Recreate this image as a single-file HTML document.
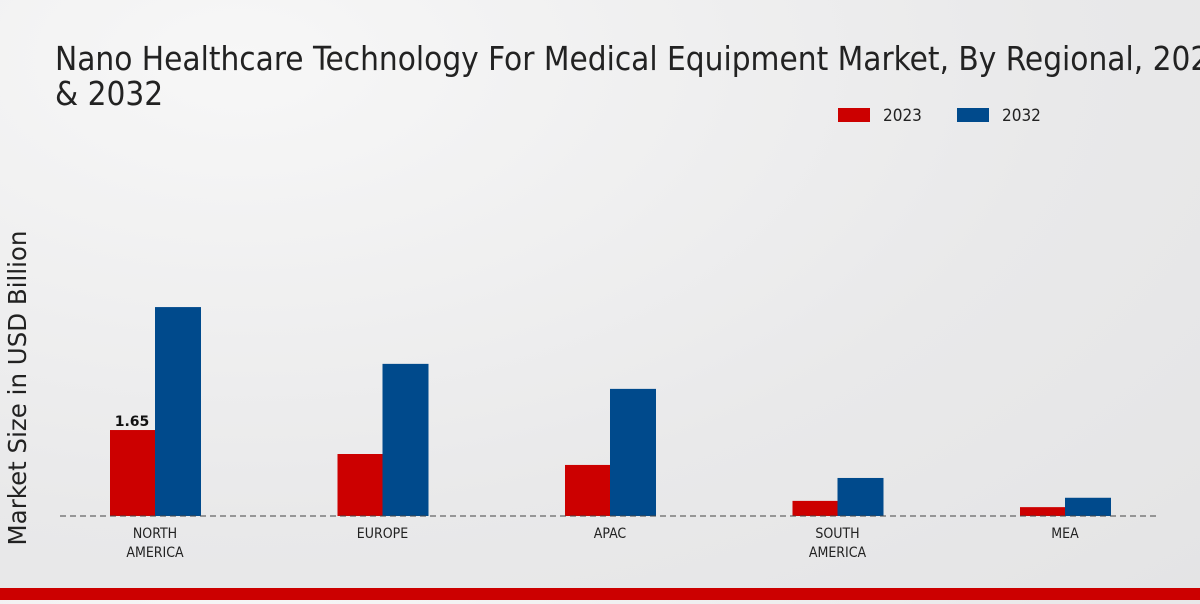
<!DOCTYPE html>
<html><head><meta charset="utf-8"><style>
body{margin:0;width:1200px;height:600px;overflow:hidden;background:radial-gradient(ellipse at 20% 10%,#f7f7f7 0%,#e9e9ea 60%,#e4e4e5 100%);font-family:"DejaVu Sans","Liberation Sans",sans-serif;}
</style></head><body>
<svg width="1200" height="600">
<text x="55" y="70" font-family="'DejaVu Sans Condensed','Liberation Sans Narrow',sans-serif" font-size="33" fill="#222">Nano Healthcare Technology For Medical Equipment Market, By Regional, 2023</text>
<text x="55" y="105" font-family="'DejaVu Sans Condensed','Liberation Sans Narrow',sans-serif" font-size="33" fill="#222">&amp; 2032</text>
<rect x="838" y="108" width="32" height="14" fill="#cc0000"/>
<text x="883" y="121" font-size="17" font-family="'DejaVu Sans Condensed',sans-serif" fill="#222">2023</text>
<rect x="957" y="108" width="32" height="14" fill="#004a8c"/>
<text x="1002" y="121" font-size="17" font-family="'DejaVu Sans Condensed',sans-serif" fill="#222">2032</text>
<text transform="translate(26,388) rotate(-90)" text-anchor="middle" font-size="24.5" fill="#222">Market Size in USD Billion</text>
<g id="bars"></g>
<line x1="60" y1="516" x2="1160" y2="516" stroke="#444" stroke-dasharray="6,4" stroke-width="1"/>
<rect x="0" y="588" width="1200" height="12" fill="#cc0000"/>
</svg>
<script>
const categories=["NORTH|AMERICA","EUROPE","APAC","SOUTH|AMERICA","MEA"];
const values2023=[1.65,1.19,0.98,0.29,0.17];
const values2032=[4.01,2.92,2.44,0.73,0.35];
const labels2023=["1.65",null,null,null,null];
const g=document.getElementById('bars');
const ns="http://www.w3.org/2000/svg";
const base=516, scale=52.1;
const xc=i=>155+i*227.5;
const y=v=>base-v*scale;
function mk(t,a){const e=document.createElementNS(ns,t);for(const k in a)e.setAttribute(k,a[k]);g.appendChild(e);return e;}
categories.forEach((c,i)=>{
 const r=mk('rect',{x:xc(i)-45,y:y(values2023[i]),width:45,height:base-y(values2023[i]),fill:'#cc0000'});
 
 
 const b=mk('rect',{x:xc(i),y:y(values2032[i]),width:46,height:base-y(values2032[i]),fill:'#004a8c'});
 
 
 if(labels2023[i]){const t=mk('text',{x:xc(i)-23,y:y(values2023[i])-4,'text-anchor':'middle','font-size':14,'font-weight':'bold',fill:'#111'});t.textContent=labels2023[i];
 
 }
 c.split('|').forEach((ln,j)=>{const t=mk('text',{x:xc(i),y:538+j*19,'text-anchor':'middle','font-size':14,'font-family':"'DejaVu Sans Condensed',sans-serif",fill:'#222'});t.textContent=ln;
 
 });
});
</script>
</body></html>
